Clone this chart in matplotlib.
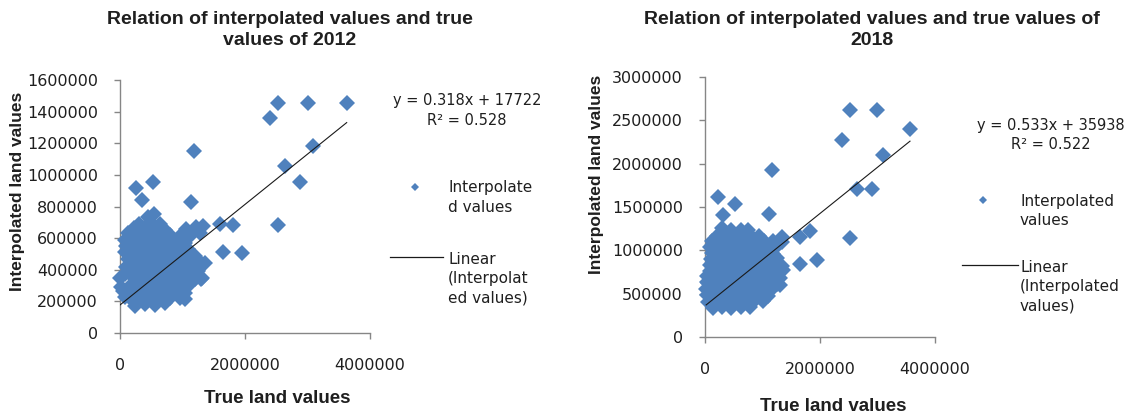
import matplotlib
matplotlib.use("Agg")
import matplotlib.pyplot as plt
import numpy as np
from matplotlib.lines import Line2D

# ---- data (true value in millions, interpolated value in thousands) ----
# 2012: outliers first, then the dense cluster row by row
true_2012 = [
    2.533, 3.013, 3.627, 2.40, 3.093, 2.64, 2.88, 2.533, 1.189, 1.136,
    0.533, 0.25, 0.347, 1.60, 1.813, 1.653, 1.957, 1.333, 1.307, 1.013,
    0.24, 0.40, 0.56, 0.72,
    0.08, 0.16, 0.32, 0.48, 0.64, 0.80, 0.96, 1.04,
    0.04, 0.24, 0.40, 0.56, 0.72, 0.88, 1.04,
    0.02, 0.16, 0.32, 0.48, 0.64, 0.80, 0.96, 1.12,
    0.00, 0.24, 0.40, 0.56, 0.72, 0.88, 1.04, 1.20, 1.30,
    0.08, 0.16, 0.32, 0.48, 0.64, 0.80, 0.96, 1.12, 1.24,
    0.10, 0.24, 0.40, 0.56, 0.72, 0.88, 1.04, 1.20, 1.36,
    0.12, 0.32, 0.48, 0.64, 0.80, 0.96, 1.12, 1.28,
    0.08, 0.24, 0.40, 0.56, 0.72, 0.88, 1.04, 1.20,
    0.10, 0.16, 0.32, 0.48, 0.64, 0.80, 0.96, 1.08,
    0.08, 0.24, 0.40, 0.56, 0.72, 0.88, 1.04,
    0.12, 0.32, 0.48, 0.64, 0.80, 0.94, 1.14, 1.28,
    0.22, 0.40, 0.56, 0.72, 1.06, 1.22,
    0.30, 0.48, 0.64,
    0.44, 0.54,
]
interp_2012 = [
    1457, 1457, 1457, 1358, 1183, 1053, 958, 680, 1152, 827,
    952, 916, 842, 688, 684, 512, 505, 674, 347, 253,
    170, 185, 175, 190,
    230, 220, 220, 220, 220, 220, 220, 215,
    265, 260, 260, 260, 260, 260, 255,
    290, 300, 300, 300, 300, 300, 300, 310,
    350, 340, 340, 340, 340, 340, 340, 340, 340,
    370, 380, 380, 380, 380, 380, 380, 380, 390,
    420, 420, 420, 420, 420, 420, 420, 420, 442,
    470, 460, 460, 460, 460, 460, 460, 450,
    510, 500, 500, 500, 500, 500, 500, 490,
    550, 540, 540, 540, 540, 540, 540, 530,
    590, 580, 580, 580, 580, 580, 570,
    630, 620, 620, 620, 620, 610, 620, 630,
    665, 660, 660, 650, 660, 670,
    690, 700, 690,
    735, 750,
]

# 2018: outliers first, then the dense cluster row by row
true_2018 = [
    2.52, 2.986, 3.565, 2.377, 3.101, 1.159, 2.638, 2.899, 2.52, 0.232,
    0.522, 1.119, 1.652, 1.826, 1.652, 1.942, 1.333, 1.304, 0.319, 0.029,
    0.754,
    0.14, 0.30, 0.46, 0.62, 0.78,
    0.06, 0.22, 0.38, 0.54, 0.70, 0.86, 1.00,
    0.04, 0.14, 0.30, 0.46, 0.62, 0.78, 0.94, 1.10,
    0.02, 0.22, 0.38, 0.54, 0.70, 0.86, 1.02, 1.18,
    0.06, 0.14, 0.30, 0.46, 0.62, 0.78, 0.94, 1.10, 1.26,
    0.04, 0.22, 0.38, 0.54, 0.70, 0.86, 1.02, 1.18, 1.30,
    0.08, 0.14, 0.30, 0.46, 0.62, 0.78, 0.94, 1.10, 1.26, 1.36,
    0.08, 0.22, 0.38, 0.54, 0.70, 0.86, 1.02, 1.18, 1.34,
    0.10, 0.14, 0.30, 0.46, 0.62, 0.78, 0.94, 1.10, 1.26,
    0.12, 0.22, 0.38, 0.54, 0.70, 0.86, 1.02, 1.18,
    0.08, 0.14, 0.30, 0.46, 0.62, 0.78, 0.94, 1.10, 1.26,
    0.12, 0.22, 0.38, 0.54, 0.70, 0.86, 1.02, 1.18, 1.34,
    0.20, 0.30, 0.46, 0.62, 0.78, 0.94,
    0.30, 0.46, 0.62,
]
interp_2018 = [
    2615, 2615, 2404, 2269, 2096, 1923, 1712, 1704, 1142, 1615,
    1531, 1423, 1154, 1223, 846, 885, 1154, 596, 1404, 635,
    1230,
    330, 345, 335, 350, 345,
    400, 410, 410, 410, 410, 410, 420,
    490, 480, 480, 480, 480, 480, 480, 470,
    550, 550, 550, 550, 550, 550, 550, 560,
    620, 620, 620, 620, 620, 620, 620, 620, 610,
    700, 690, 690, 690, 690, 690, 690, 690, 680,
    760, 760, 760, 760, 760, 760, 760, 760, 760, 770,
    830, 830, 830, 830, 830, 830, 830, 830, 820,
    900, 900, 900, 900, 900, 900, 900, 900, 910,
    970, 970, 970, 970, 970, 970, 970, 960,
    1040, 1040, 1040, 1040, 1040, 1040, 1040, 1040, 1050,
    1110, 1110, 1110, 1110, 1110, 1110, 1110, 1110, 1100,
    1170, 1180, 1180, 1180, 1180, 1160,
    1260, 1240, 1230,
]

# trend lines (slope, intercept) as drawn in the chart
trend_2012 = (0.318, 177220)
trend_2018 = (0.533, 359380)
eq_2012 = "y = 0.318x + 17722\nR\u00b2 = 0.528"
eq_2018 = "y = 0.533x + 35938\nR\u00b2 = 0.522"

yticks_2012 = [0, 200000, 400000, 600000, 800000, 1000000, 1200000, 1400000, 1600000]
yticks_2018 = [0, 500000, 1000000, 1500000, 2000000, 2500000, 3000000]
xticks = [0, 2000000, 4000000]

BLUE = "#4F81BD"
GREY = "#868686"
TXT = "#1F1F1F"


def draw_panel(ax, tx, ty, trend, yticks):
    x = np.array(tx) * 1e6
    y = np.array(ty) * 1e3
    ax.plot(x, y, "D", color=BLUE, ms=8, mew=0, clip_on=False, zorder=3)
    xs = np.array([x.min(), x.max()])
    ax.plot(xs, trend[0] * xs + trend[1], color="#1a1a1a", lw=0.8, zorder=4)

    ax.set_xlim(0, 4000000)
    ax.set_ylim(yticks[0], yticks[-1])
    ax.set_xticks(xticks)
    ax.set_yticks(yticks)
    ax.set_xticklabels([str(v) for v in xticks])
    ax.set_yticklabels([str(v) for v in yticks])
    for s in ["top", "right"]:
        ax.spines[s].set_visible(False)
    for s in ["left", "bottom"]:
        ax.spines[s].set_color(GREY)
        ax.spines[s].set_linewidth(1.0)
    ax.tick_params(axis="both", direction="out", length=4, width=1.0, color=GREY,
                   labelsize=11.5, labelcolor=TXT)
    ax.tick_params(axis="y", pad=12)
    ax.tick_params(axis="x", pad=14)


def draw_legend(fig, mk, line_x, line_y, txt_x, y1, y2, lab1, lab2):
    W, H = 1140.0, 416.0
    fig.add_artist(Line2D([mk[0] / W], [1 - mk[1] / H], marker="D", ms=4.5,
                          color=BLUE, mew=0, transform=fig.transFigure))
    fig.add_artist(Line2D([line_x[0] / W, line_x[1] / W], [1 - line_y / H] * 2,
                          color="#1a1a1a", lw=0.9, transform=fig.transFigure))
    fig.text(txt_x / W, 1 - y1 / H, lab1, fontsize=11, color=TXT, va="center",
             ha="left", linespacing=1.35)
    fig.text(txt_x / W, 1 - y2 / H, lab2, fontsize=11, color=TXT, va="center",
             ha="left", linespacing=1.35)


fig = plt.figure(figsize=(11.4, 4.16), dpi=100)
fig.patch.set_facecolor("white")

ax1 = fig.add_axes([120 / 1140, 1 - 333 / 416, 250 / 1140, 253 / 416])
ax2 = fig.add_axes([705 / 1140, 1 - 337 / 416, 230 / 1140, 260 / 416])

draw_panel(ax1, true_2012, interp_2012, trend_2012, yticks_2012)
draw_panel(ax2, true_2018, interp_2018, trend_2018, yticks_2018)

# axis labels
for ax, xl, yl in [(ax1, (0.628, -0.257), (-0.408, 0.561)),
                   (ax2, (0.557, -0.269), (-0.47, 0.627))]:
    ax.set_xlabel("True land values", fontsize=13.5, fontweight="bold",
                  family="Liberation Sans", color=TXT)
    ax.set_ylabel("Interpolated land values", fontsize=12.5, fontweight="bold",
                  family="Liberation Sans", color=TXT)
    ax.xaxis.label.set_va("center")
    ax.yaxis.label.set_va("center")
    ax.xaxis.set_label_coords(*xl)
    ax.yaxis.set_label_coords(*yl)

# titles
fig.text(290 / 1140, 1 - 30 / 416, "Relation of interpolated values and true\nvalues of 2012",
         ha="center", va="center", fontsize=14, fontweight="bold",
         family="Liberation Sans", color=TXT, linespacing=1.35)
fig.text(872 / 1140, 1 - 30 / 416, "Relation of interpolated values and true values of\n2018",
         ha="center", va="center", fontsize=14, fontweight="bold",
         family="Liberation Sans", color=TXT, linespacing=1.35)

# trend equations
fig.text(467 / 1140, 1 - 110.5 / 416, eq_2012, ha="center", va="center",
         fontsize=10.5, color=TXT, linespacing=1.4)
fig.text(1051 / 1140, 1 - 135 / 416, eq_2018, ha="center", va="center",
         fontsize=10.5, color=TXT, linespacing=1.4)

# legends (Excel style, to the right of each plot)
draw_legend(fig, (415, 187), (390, 443), 257, 448, 197.5, 278.7,
            "Interpolate\nd values", "Linear\n(Interpolat\ned values)")
draw_legend(fig, (983, 200), (962, 1018), 265, 1020, 211, 286.7,
            "Interpolated\nvalues", "Linear\n(Interpolated\nvalues)")

fig.savefig("out.png", dpi=100, facecolor="white")
